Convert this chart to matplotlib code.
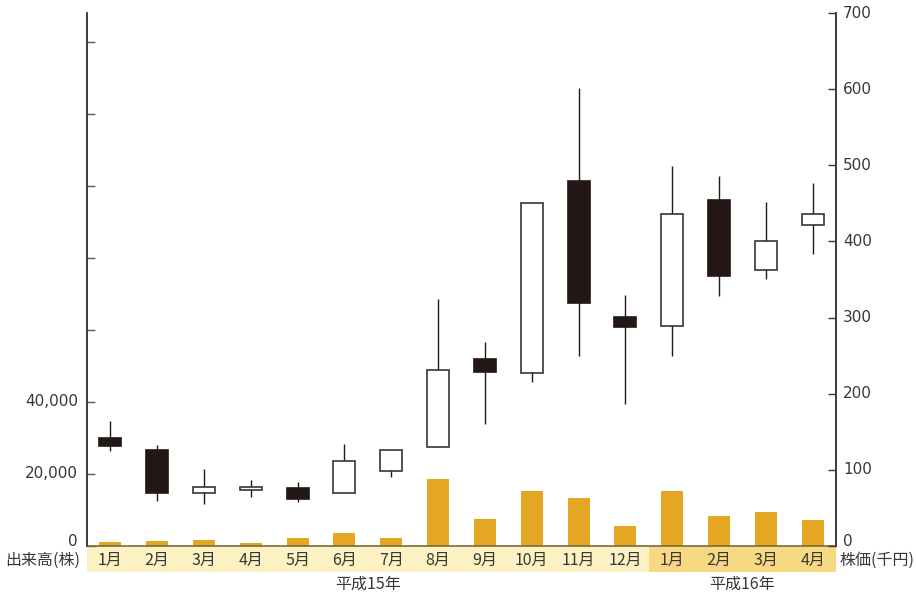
import matplotlib
matplotlib.use("Agg")
import matplotlib.pyplot as plt
from matplotlib.patches import Rectangle
from matplotlib.transforms import ScaledTranslation, blended_transform_factory
import numpy as np

plt.rcParams['font.family'] = ['Noto Sans CJK JP', 'DejaVu Sans']

# Monthly stock data: 平成15年1月 – 平成16年4月
months = ["1月", "2月", "3月", "4月", "5月", "6月", "7月", "8月",
          "9月", "10月", "11月", "12月", "1月", "2月", "3月", "4月"]
price_open = [142, 126, 70, 73, 76, 69, 99, 130, 246, 227, 480, 301, 289, 454, 362, 421]
price_close = [131, 69, 77, 77, 62, 111, 126, 231, 228, 451, 319, 288, 436, 354, 401, 436]
price_high = [164, 133, 101, 87, 84, 134, 126, 325, 268, 451, 601, 330, 499, 486, 452, 477]
price_low = [125, 59, 55, 64, 58, 69, 90, 130, 160, 215, 250, 186, 250, 328, 351, 383]
volume = [1100, 1400, 1700, 800, 2200, 3600, 2200, 18600, 7500, 15300,
          13300, 5500, 15300, 8300, 9400, 7200]

vol_ticks = [0, 20000, 40000, 60000, 80000, 100000, 120000, 140000]
vol_labels = ["0", "20,000", "40,000", "", "", "", "", ""]
price_ticks = [0, 100, 200, 300, 400, 500, 600, 700]
year_labels = ["平成15年", "平成16年"]

TEXT = "#3a3634"
AXIS = "#3a3432"
DARK = "#231815"
BAR = "#E3A724"
BAND_LIGHT = "#FCF2C3"
BAND_DARK = "#F8D983"
FS = 11.5
NUM_FS = 11
NUM_FONT = ['DejaVu Sans']

W, H = 916, 593
fig = plt.figure(figsize=(W / 100, H / 100), dpi=100)
left, right, bottom, top = 87, 836, 546, 13
ax = fig.add_axes([left / W, (H - bottom) / H, (right - left) / W, (bottom - top) / H])
ax2 = ax.twinx()

x = np.arange(len(months))
n = len(months)

# volume bars (left axis)
ax.bar(x, volume, width=0.47, color=BAR, zorder=2)
ax.set_xlim(-0.5, n - 0.5)
ax.set_ylim(0, 148000)
ax.set_yticks(vol_ticks)
ax.set_yticklabels([])
ax.tick_params(axis='y', direction='in', length=6, width=1, color="#5a5452")
ax.set_xticks([])

# candlesticks (right axis)
for i in range(n):
    o, c, hi, lo = price_open[i], price_close[i], price_high[i], price_low[i]
    ax2.vlines(x[i], lo, hi, color=DARK, lw=1.0, zorder=2)
    up = c >= o
    ax2.bar(x[i], abs(c - o), bottom=min(o, c), width=0.47,
            color="white" if up else DARK,
            edgecolor="#3a3230" if up else DARK,
            linewidth=1.2, zorder=3)
ax2.set_ylim(0, 700)
ax2.set_yticks(price_ticks)
ax2.set_yticklabels([])
ax2.tick_params(axis='y', direction='in', length=6, width=1, color=AXIS)

for a in (ax, ax2):
    a.spines['top'].set_visible(False)
    a.spines['bottom'].set_visible(False)
    a.spines['left'].set_color(AXIS)
    a.spines['right'].set_color(AXIS)
    a.spines['left'].set_linewidth(1.1)
    a.spines['right'].set_linewidth(1.1)
    a.patch.set_visible(False)

# tick labels, the zero labels lifted a little above the baseline
def px(dx, dy):
    return ScaledTranslation(dx / 100, dy / 100, fig.dpi_scale_trans)

tl = blended_transform_factory(ax.transAxes, ax.transData)
for v, s in zip(vol_ticks, vol_labels):
    if s:
        lift = 5 if v == 0 else 0
        ax.text(0, v, s, transform=tl + px(-9, lift), ha='right', va='center',
                fontsize=NUM_FS, color=TEXT, family=NUM_FONT)
tr = blended_transform_factory(ax2.transAxes, ax2.transData)
for v in price_ticks:
    lift = 5 if v == 0 else 0
    ax2.text(1, v, str(v), transform=tr + px(7, lift), ha='left', va='center',
             fontsize=NUM_FS, color=TEXT, family=NUM_FONT)

# month band under the axis
band_h = 26 / (bottom - top)
trans = ax.get_xaxis_transform()
ax.add_patch(Rectangle((-0.5, -band_h), 12, band_h, transform=trans,
                       facecolor=BAND_LIGHT, edgecolor="none", clip_on=False, zorder=0))
ax.add_patch(Rectangle((11.5, -band_h), 4, band_h, transform=trans,
                       facecolor=BAND_DARK, edgecolor="none", clip_on=False, zorder=0))
ax.plot([-0.5, n - 0.5], [0, 0], transform=trans, color="#7a6a3a", lw=1.2,
        clip_on=False, zorder=4)

row1 = -14.5 / (bottom - top)
row2 = -38 / (bottom - top)
for i, m in enumerate(months):
    ax.text(x[i], row1, m, transform=trans, ha='center', va='center',
            fontsize=FS, color=TEXT)

ax.text(5.5, row2, year_labels[0], transform=trans, ha='center',
        va='center', fontsize=FS, color=TEXT)
ax.text(13.5, row2, year_labels[1], transform=trans, ha='center',
        va='center', fontsize=FS, color=TEXT)

ax.text(0, row1, "出来高(株)", transform=ax.transAxes + px(-7, 0), ha='right',
        va='center', fontsize=FS, color=TEXT)
ax.text(1, row1, "株価(千円)", transform=ax.transAxes + px(3, 0), ha='left',
        va='center', fontsize=FS, color=TEXT)

fig.savefig("out.png", dpi=100, facecolor="white")
